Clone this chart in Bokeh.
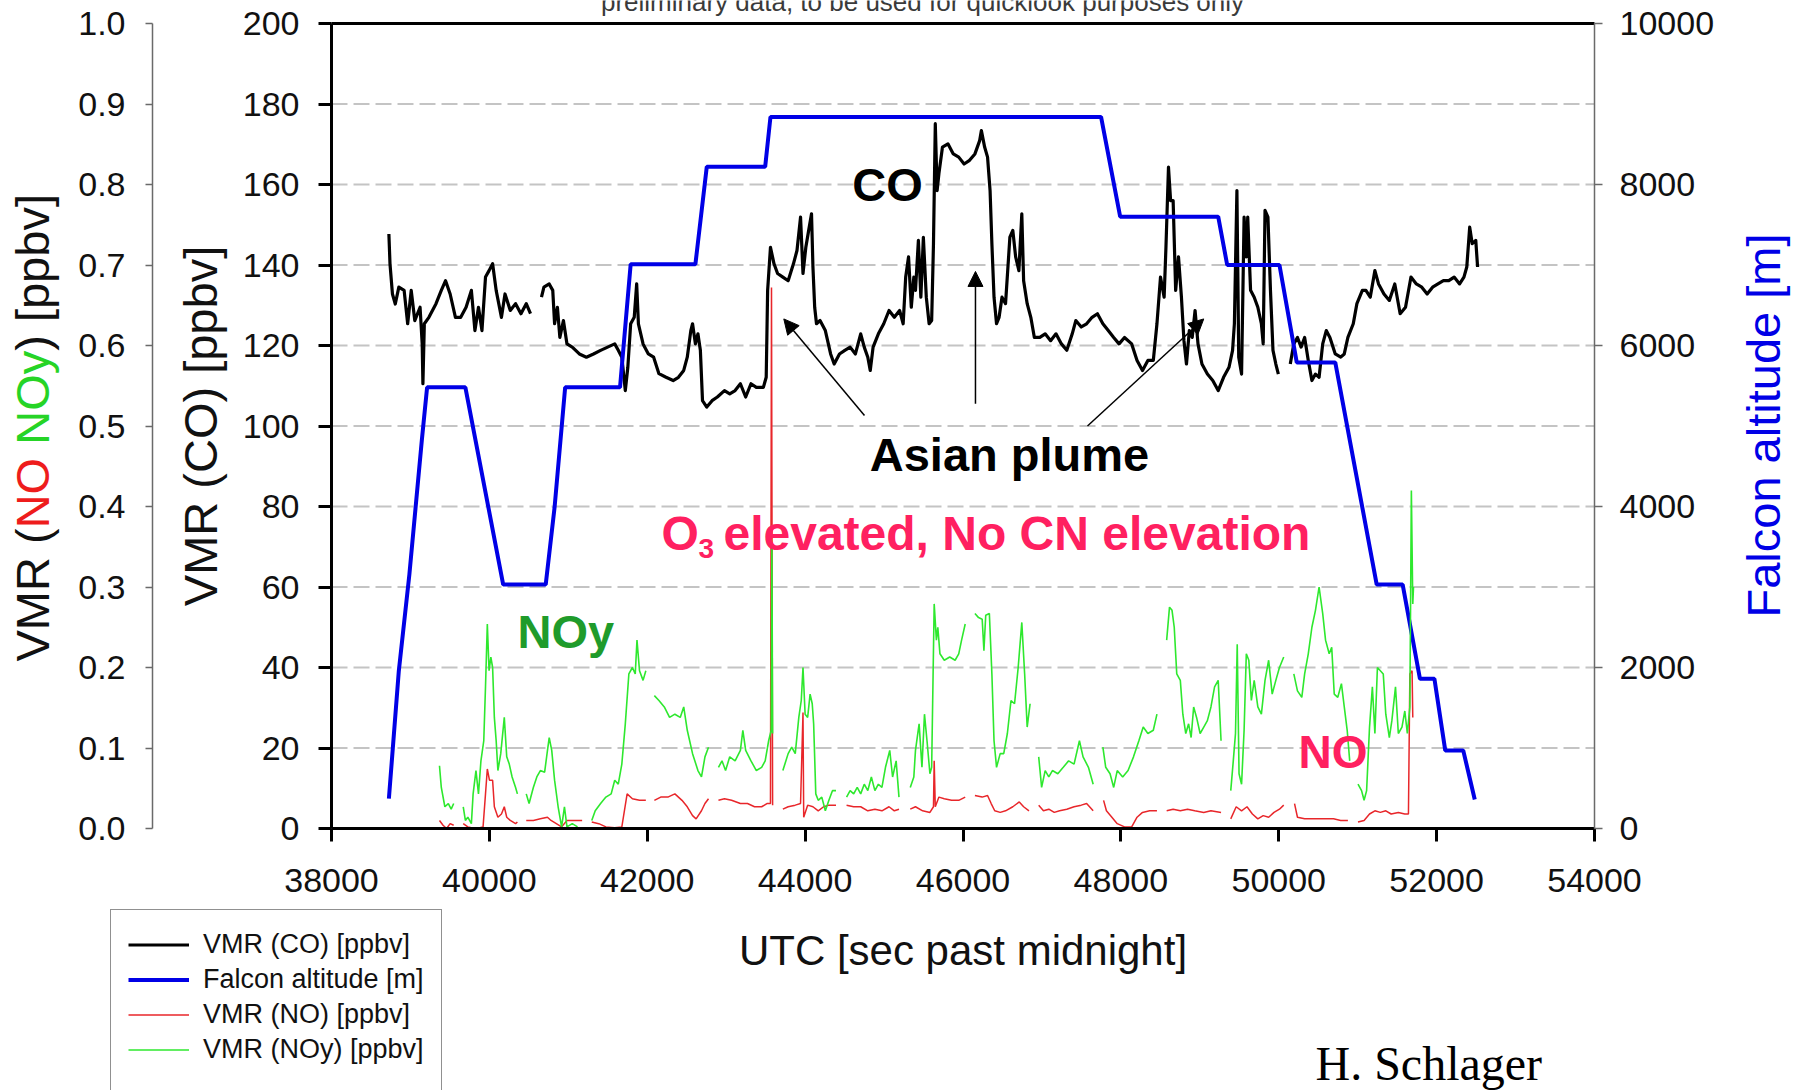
import math

from bokeh.core.properties import value
from bokeh.embed import file_html
from bokeh.models import (Arrow, BasicTickFormatter, FixedTicker, Label, Legend,
                          LegendItem, LinearAxis, NormalHead, PrintfTickFormatter,
                          Range1d)
from bokeh.plotting import figure
from bokeh.resources import INLINE

GAP = float("nan")

# ---------------------------------------------------------------- data
# Falcon flight, UTC seconds past midnight

co_time = [
    38727, 38741, 38772, 38808, 38853, 38920, 38965, 39010, 39055, 39122,
    39149, 39158, 39176, 39234, 39324, 39391, 39445, 39503, 39570, 39637,
    39705, 39772, 39817, 39862, 39906, 39951, 39996, 40041, 40086, 40153,
    40198, 40265, 40332, 40400, 40467, 40521, GAP,
    40660, 40691, 40758, 40803, 40826, 40862, 40893, 40938, 40983, 41050,
    41140, 41229, 41319, 41409, 41498, 41588, 41633, 41678, 41722, 41754,
    41790, 41835, 41866, 41888, 41947, 42014, 42081, 42148, 42238, 42328,
    42395, 42462, 42507, 42552, 42574, 42610, 42642, 42673, 42700, 42754,
    42821, 42888, 42978, 43045, 43113, 43180, 43247, 43314, 43382, 43471,
    43507, 43525, 43561, 43606, 43651, 43718, 43785, 43852, 43897, 43942,
    43973, 44009, 44045, 44081, 44099, 44121, 44144, 44189, 44256, 44323,
    44368, 44435, 44503, 44570, 44637, 44704, 44749, 44794, 44825, 44861,
    44928, 44996, 45063, 45130, 45197, 45242, 45274, 45310, 45345, 45377,
    45398, 45435, 45466, 45498, 45535, 45571, 45603, 45626, 45649, 45672,
    45695, 45740, 45809, 45877, 45946, 46014, 46083, 46151, 46211, 46233,
    46274, 46311, 46343, 46366, 46393, 46425, 46457, 46494, 46539, 46594,
    46631, 46667, 46708, 46745, 46768, 46813, 46859, 46904, 46973, 47041,
    47110, 47178, 47247, 47315, 47384, 47429, 47498, 47566, 47635, 47703,
    47772, 47840, 47909, 47977, 48046, 48137, 48205, 48274, 48342, 48411,
    48457, 48502, 48548, 48571, 48603, 48630, 48662, 48694, 48730, 48767,
    48799, 48831, 48867, 48904, 48940, 48977, 49027, 49096, 49164, 49233,
    49301, 49370, 49415, 49438, 49470, 49493, 49529, 49561, 49589, 49607,
    49643, 49689, 49735, 49780, 49803, 49826, 49863, 49895, 49927, 49963,
    49995, GAP,
    50146, 50191, 50237, 50283, 50328, 50374, 50420, 50465, 50511, 50557,
    50602, 50648, 50716, 50785, 50830, 50876, 50944, 50990, 51059, 51104,
    51159, 51218, 51264, 51333, 51401, 51470, 51538, 51606, 51675, 51743,
    51812, 51880, 51949, 52017, 52086, 52154, 52222, 52291, 52346, 52382,
    52419, 52451, 52496, 52519,
]
co_ppbv = [
    147.7, 140.3, 132.8, 130.3, 134.5, 133.7, 125.4, 133.7, 126.2, 129.5,
    120.4, 110.5, 125.4, 127.0, 130.4, 133.7, 136.1, 132.8, 127.0, 127.0,
    129.5, 133.7, 123.7, 129.5, 123.7, 137.0, 138.6, 140.3, 133.7, 127.0,
    132.8, 128.7, 130.4, 127.9, 130.4, 127.9, GAP,
    132.0, 134.5, 135.3, 133.7, 125.4, 129.5, 122.0, 126.2, 120.4, 119.6,
    117.9, 117.1, 117.9, 118.8, 119.6, 120.4, 118.8, 117.1, 108.8, 114.6,
    125.4, 127.0, 135.3, 125.4, 120.4, 117.9, 117.1, 113.0, 112.1, 111.3,
    112.1, 113.8, 117.1, 123.7, 125.4, 120.4, 122.9, 118.8, 106.3, 104.7,
    106.3, 107.2, 108.8, 108.0, 108.8, 110.5, 107.2, 110.5, 109.6, 109.6,
    112.1, 133.7, 144.4, 140.3, 137.9, 137.0, 136.1, 140.3, 143.6, 151.9,
    137.9, 144.4, 148.6, 152.7, 139.5, 129.5, 125.4, 126.2, 123.7, 117.9,
    115.4, 117.9, 118.8, 119.6, 117.9, 122.9, 119.6, 117.1, 113.8, 119.6,
    122.9, 125.4, 128.7, 127.0, 128.7, 125.4, 137.0, 142.0, 129.5, 137.0,
    133.7, 146.1, 132.0, 146.9, 132.0, 125.4, 126.2, 145.3, 175.1, 158.5,
    162.7, 169.3, 170.1, 167.6, 166.8, 165.1, 166.0, 167.6, 170.9, 173.4,
    169.3, 166.8, 158.5, 145.3, 132.0, 125.4, 127.0, 132.0, 130.4, 146.9,
    148.6, 142.0, 138.6, 152.7, 136.1, 130.4, 127.0, 122.0, 122.0, 122.9,
    121.2, 122.9, 120.4, 118.8, 122.9, 126.2, 124.6, 125.4, 127.0, 127.9,
    125.4, 123.7, 122.0, 120.4, 122.0, 120.4, 116.3, 113.8, 116.3, 116.3,
    125.4, 137.0, 132.0, 144.4, 164.3, 156.0, 156.0, 133.7, 142.0, 132.0,
    121.2, 115.4, 123.7, 122.0, 128.7, 120.4, 115.4, 112.9, 111.3, 108.8,
    112.1, 114.6, 118.8, 125.4, 158.5, 117.1, 112.9, 151.9, 142.0, 151.9,
    133.7, 132.0, 129.5, 125.4, 120.4, 153.6, 151.9, 133.7, 118.8, 115.4,
    112.9, GAP,
    115.4, 120.4, 122.0, 119.6, 122.0, 116.3, 111.3, 112.9, 112.1, 120.4,
    123.7, 122.0, 117.9, 117.1, 117.9, 122.0, 125.4, 130.4, 133.7, 133.7,
    132.0, 138.6, 135.3, 132.8, 131.2, 135.3, 127.9, 129.5, 137.0, 135.3,
    134.5, 132.8, 134.5, 135.3, 136.1, 136.1, 137.0, 135.3, 137.0, 139.5,
    149.4, 145.3, 146.1, 139.5,
]

alt_time = [
    38727, 38853, 38987, 39144, 39211, 39696, 40175, 40714, 40826, 40960,
    41655, 41790, 42610, 42754, 43494, 43561, 47749, 47991, 49233, 49347,
    50009, 50228, 50716, 51241, 51570, 51789, 51972, 52109, 52337, 52483,
]
alt_m = [
    370, 1960, 3160, 4820, 5480, 5480, 3030, 3030, 3990, 5480,
    5480, 7010, 7010, 8220, 8220, 8840, 8840, 7600, 7600, 7000,
    7000, 5790, 5790, 3030, 3030, 1860, 1860, 970, 970, 360,
]

no_time = [
    39368, 39413, 39458, 39503, 39548, GAP,
    39669, 39727, 39772, 39839, 39920, 39951, 39974, 40001, 40041, 40063,
    40108, 40153, 40189, 40220, 40265, 40332, 40355, GAP,
    40467, 40557, 40646, 40736, 40781, 40848, 40915, 40983, 41072, 41175, GAP,
    41297, 41386, 41476, 41588, 41678, 41745, 41812, 41902, 41982, GAP,
    42090, 42171, 42261, 42350, 42440, 42507, 42574, 42619, 42687, 42731,
    42776, GAP,
    42902, 42978, 43068, 43180, 43270, 43359, 43449, 43516, 43561, 43574,
    43588, GAP,
    43718, 43785, 43875, 43942, 43973, 43982, 44032, 44099, 44166, 44234,
    44301, 44391, GAP,
    44525, 44615, 44704, 44794, 44884, 44973, 45063, 45130, 45189, GAP,
    45332, 45398, 45489, 45581, 45626, 45635, 45649, 45695, 45763, 45855,
    45946, 46028, GAP,
    46151, 46243, 46311, 46357, 46402, 46471, 46539, 46631, 46713, 46768,
    46836, GAP,
    46959, 47019, 47087, 47156, 47224, 47315, 47407, 47498, 47566, 47649, GAP,
    47781, 47817, 47886, 47954, 48046, 48137, 48205, 48274, 48365, 48457, GAP,
    48580, 48662, 48753, 48845, 48936, 49050, 49141, 49269, GAP,
    49392, 49461, 49529, 49598, 49666, 49735, 49803, 49872, 49940, 50009,
    50063, GAP,
    50200, 50237, 50328, 50420, 50511, 50602, 50694, 50785, 50876, GAP,
    51004, 51081, 51150, 51218, 51287, 51356, 51424, 51515, 51597, 51643,
    51661, 51689, 51698,
]
no_ppbv = [
    0.010, 0.004, 0.000, 0.006, 0.004, GAP,
    0.006, 0.002, 0.001, 0.000, 0.002, 0.043, 0.074, 0.060, 0.060, 0.027,
    0.014, 0.018, 0.027, 0.014, 0.010, 0.006, 0.008, GAP,
    0.010, 0.010, 0.012, 0.014, 0.010, 0.006, 0.002, 0.010, 0.010, 0.010, GAP,
    0.008, 0.006, 0.002, 0.001, 0.002, 0.043, 0.037, 0.035, 0.035, GAP,
    0.035, 0.039, 0.039, 0.043, 0.035, 0.027, 0.016, 0.012, 0.022, 0.031,
    0.037, GAP,
    0.035, 0.037, 0.035, 0.031, 0.031, 0.027, 0.027, 0.031, 0.031, 0.672,
    0.029, GAP,
    0.024, 0.027, 0.029, 0.031, 0.144, 0.014, 0.029, 0.027, 0.022, 0.027,
    0.029, 0.029, GAP,
    0.029, 0.027, 0.027, 0.022, 0.024, 0.022, 0.027, 0.022, 0.024, GAP,
    0.024, 0.027, 0.022, 0.020, 0.027, 0.084, 0.027, 0.039, 0.037, 0.035,
    0.035, 0.039, GAP,
    0.041, 0.039, 0.041, 0.031, 0.022, 0.020, 0.022, 0.027, 0.033, 0.027,
    0.022, GAP,
    0.029, 0.022, 0.024, 0.020, 0.022, 0.024, 0.027, 0.029, 0.031, 0.022, GAP,
    0.035, 0.022, 0.014, 0.006, 0.002, 0.002, 0.014, 0.020, 0.022, 0.022, GAP,
    0.022, 0.024, 0.022, 0.024, 0.022, 0.020, 0.022, 0.020, GAP,
    0.012, 0.027, 0.022, 0.027, 0.018, 0.012, 0.016, 0.014, 0.020, 0.024,
    0.029, GAP,
    0.031, 0.014, 0.012, 0.012, 0.012, 0.012, 0.012, 0.010, 0.010, GAP,
    0.008, 0.010, 0.018, 0.022, 0.020, 0.022, 0.018, 0.020, 0.018, 0.018,
    0.192, 0.196, 0.138,
]

noy_time = [
    39368, 39391, 39436, 39480, 39516, 39548, GAP,
    39669, 39696, 39727, 39772, 39794, 39830, 39862, 39893, 39929, 39951,
    39974, 39996, 40019, 40041, 40063, 40086, 40108, 40144, 40189, 40220,
    40252, 40288, 40332, 40355, GAP,
    40467, 40503, 40557, 40601, 40646, 40700, 40736, 40758, 40790, 40826,
    40871, 40915, 40951, 40983, 41050, 41117, GAP,
    41297, 41341, 41409, 41476, 41543, 41588, 41633, 41678, 41722, 41767,
    41812, 41848, 41870, 41902, 41947, 41982, GAP,
    42090, 42148, 42216, 42283, 42350, 42418, 42462, 42507, 42574, 42642,
    42687, 42731, 42776, GAP,
    42902, 42947, 42992, 43045, 43113, 43180, 43211, 43247, 43314, 43382,
    43449, 43494, 43538, 43570, 43579, 43588, GAP,
    43718, 43785, 43830, 43875, 43920, 43951, 43973, 44000, 44032, 44063,
    44090, 44108, 44135, 44166, 44211, 44256, 44301, 44346, 44391, GAP,
    44525, 44570, 44615, 44660, 44704, 44749, 44794, 44839, 44884, 44928,
    44973, 45018, 45072, 45108, 45153, 45189, GAP,
    45332, 45377, 45398, 45444, 45480, 45512, 45544, 45581, 45603, 45635,
    45663, 45681, 45708, 45763, 45832, 45900, 45946, 45982, 46028, GAP,
    46151, 46197, 46243, 46265, 46288, 46334, 46366, 46393, 46425, 46471,
    46516, 46562, 46608, 46653, 46699, 46745, 46781, 46813, 46850, GAP,
    46959, 46996, 47041, 47087, 47133, 47201, 47270, 47338, 47407, 47475,
    47521, 47589, 47649, GAP,
    47772, 47808, 47863, 47909, 47954, 48023, 48091, 48160, 48228, 48283,
    48342, 48411, 48457, GAP,
    48580, 48616, 48648, 48676, 48708, 48753, 48785, 48822, 48858, 48890,
    48922, 48959, 49004, 49050, 49096, 49141, 49187, 49233, 49269, GAP,
    49392, 49424, 49452, 49474, 49497, 49529, 49561, 49589, 49621, 49653,
    49689, 49735, 49780, 49826, 49872, 49917, 49963, 50009, 50063, GAP,
    50191, 50237, 50292, 50328, 50374, 50420, 50465, 50511, 50557, 50593,
    50639, 50671, 50703, 50748, 50794, 50830, 50867, 50899, GAP,
    51004, 51049, 51081, 51113, 51150, 51186, 51218, 51250, 51287, 51324,
    51356, 51401, 51433, 51479, 51515, 51561, 51597, 51629, 51661, 51680,
    51698, 51707,
]
noy_ppbv = [
    0.078, 0.051, 0.027, 0.031, 0.024, 0.031, GAP,
    0.027, 0.010, 0.014, 0.006, 0.043, 0.072, 0.043, 0.084, 0.109, 0.176,
    0.254, 0.196, 0.213, 0.200, 0.138, 0.109, 0.072, 0.093, 0.138, 0.089,
    0.080, 0.064, 0.051, 0.043, GAP,
    0.043, 0.031, 0.051, 0.064, 0.072, 0.070, 0.097, 0.113, 0.097, 0.060,
    0.027, 0.002, 0.027, 0.002, 0.006, 0.002, GAP,
    0.010, 0.022, 0.031, 0.039, 0.043, 0.060, 0.055, 0.080, 0.130, 0.192,
    0.200, 0.192, 0.234, 0.196, 0.184, 0.196, GAP,
    0.165, 0.159, 0.151, 0.138, 0.142, 0.138, 0.151, 0.122, 0.093, 0.072,
    0.064, 0.089, 0.101, GAP,
    0.076, 0.084, 0.072, 0.089, 0.084, 0.097, 0.122, 0.097, 0.084, 0.072,
    0.076, 0.084, 0.109, 0.122, 0.360, 0.118, GAP,
    0.072, 0.093, 0.101, 0.093, 0.138, 0.159, 0.200, 0.142, 0.138, 0.167,
    0.155, 0.130, 0.043, 0.035, 0.039, 0.022, 0.035, 0.047, 0.047, GAP,
    0.039, 0.047, 0.043, 0.051, 0.043, 0.055, 0.047, 0.064, 0.047, 0.055,
    0.051, 0.076, 0.097, 0.064, 0.084, 0.039, GAP,
    0.051, 0.064, 0.097, 0.130, 0.076, 0.142, 0.109, 0.068, 0.076, 0.279,
    0.234, 0.250, 0.217, 0.209, 0.213, 0.209, 0.217, 0.234, 0.254, GAP,
    0.267, 0.262, 0.260, 0.221, 0.265, 0.267, 0.192, 0.109, 0.076, 0.093,
    0.093, 0.118, 0.159, 0.155, 0.200, 0.256, 0.192, 0.126, 0.155, GAP,
    0.089, 0.051, 0.072, 0.064, 0.072, 0.068, 0.076, 0.084, 0.080, 0.109,
    0.089, 0.076, 0.055, GAP,
    0.101, 0.076, 0.068, 0.051, 0.072, 0.064, 0.072, 0.089, 0.109, 0.126,
    0.118, 0.122, 0.142, GAP,
    0.234, 0.275, 0.271, 0.250, 0.192, 0.184, 0.142, 0.118, 0.130, 0.113,
    0.151, 0.138, 0.118, 0.126, 0.134, 0.151, 0.176, 0.184, 0.109, GAP,
    0.047, 0.084, 0.118, 0.229, 0.068, 0.055, 0.122, 0.217, 0.209, 0.159,
    0.184, 0.151, 0.142, 0.184, 0.209, 0.167, 0.184, 0.200, 0.213, GAP,
    0.192, 0.171, 0.163, 0.192, 0.217, 0.250, 0.271, 0.300, 0.267, 0.234,
    0.217, 0.225, 0.167, 0.163, 0.180, 0.151, 0.122, 0.084, GAP,
    0.055, 0.047, 0.035, 0.047, 0.126, 0.176, 0.118, 0.200, 0.196, 0.192,
    0.142, 0.113, 0.134, 0.176, 0.118, 0.126, 0.146, 0.118, 0.151, 0.420,
    0.279, 0.300,
]

# plume arrows: (time, CO) of tail and head
arrow_x0 = [44752, 46158, 47577]
arrow_y0 = [102.6, 105.5, 100.0]
arrow_x1 = [43730, 46158, 49050]
arrow_y1 = [126.6, 138.4, 126.6]

# axis ticks
x_ticks = [38000, 40000, 42000, 44000, 46000, 48000, 50000, 52000, 54000]
co_ticks = [0, 20, 40, 60, 80, 100, 120, 140, 160, 180, 200]
nox_ticks = [0.0, 0.1, 0.2, 0.3, 0.4, 0.5, 0.6, 0.7, 0.8, 0.9, 1.0]
alt_ticks = [0, 2000, 4000, 6000, 8000, 10000]

# ---------------------------------------------------------------- page geometry
W, H = 1801, 1090
# pixel box of the data area (left, right, top, bottom) on the page
BOX_L, BOX_R, BOX_T, BOX_B = 331, 1594, 23, 828
NOX_SPINE = 152          # pixel column of the outer left axis

SANS = "Liberation Sans"
BLUE = "#0000e6"
RED = "#e8262a"
GREEN = "#2ee82e"
PINK = "#ff2060"
DARK_GREEN = "#1f9b2b"
GRAY_AXIS = "#6a6a6a"
INK = "#111111"
MID = 0.3465             # em-box middle above the baseline (Liberation Sans)


def stretch(lo, hi, p_lo, p_hi, p_max):
    """Range whose [lo, hi] lands on pixels [p_lo, p_hi] of a 0..p_max span."""
    k = (hi - lo) / (p_hi - p_lo)
    return Range1d(lo - p_lo * k, lo + (p_max - p_lo) * k)


x_range = stretch(x_ticks[0], x_ticks[-1], BOX_L, BOX_R, W)
co_range = stretch(co_ticks[0], co_ticks[-1], H - BOX_B, H - BOX_T, H)
nox_range = stretch(nox_ticks[0], nox_ticks[-1], H - BOX_B, H - BOX_T, H)
alt_range = stretch(alt_ticks[0], alt_ticks[-1], H - BOX_B, H - BOX_T, H)
x_per_px = (x_ticks[-1] - x_ticks[0]) / (BOX_R - BOX_L)

p = figure(width=W, height=H, output_backend="svg", toolbar_location=None,
           x_range=x_range, y_range=co_range,
           min_border_left=0, min_border_right=0, min_border_top=0,
           min_border_bottom=0, background_fill_color="white",
           border_fill_color="white", outline_line_color=None)
p.extra_y_ranges = {"nox": nox_range, "alt": alt_range}
p.xgrid.visible = False
p.ygrid.visible = False

axis_common = dict(major_tick_in=0, minor_tick_line_color=None,
                   major_label_text_font=SANS, major_label_text_font_size="34px",
                   major_label_text_color=INK)

# bottom time axis
xa = p.xaxis[0]
xa.update(fixed_location=co_ticks[0], bounds=(x_ticks[0], x_ticks[-1]),
          ticker=FixedTicker(ticks=x_ticks),
          formatter=BasicTickFormatter(use_scientific=False),
          axis_line_width=3, axis_line_color="black",
          major_tick_line_width=3, major_tick_line_color="black",
          major_tick_out=13, major_label_standoff=27,
          axis_label="UTC [sec past midnight]", axis_label_text_font=SANS,
          axis_label_text_font_size="42px", axis_label_text_font_style="normal",
          axis_label_text_color=INK, axis_label_standoff=32, **axis_common)

# left CO axis
ya = p.yaxis[0]
ya.update(fixed_location=x_ticks[0], bounds=(co_ticks[0], co_ticks[-1]),
          ticker=FixedTicker(ticks=co_ticks),
          axis_line_width=3, axis_line_color="black",
          major_tick_line_width=3, major_tick_line_color="black",
          major_tick_out=13, major_label_standoff=19,
          axis_label="VMR (CO) [ppbv]", axis_label_text_font=SANS,
          axis_label_text_font_size="47px", axis_label_text_font_style="normal",
          axis_label_text_color=INK, axis_label_standoff=13, **axis_common)

# outer left NO / NOy axis
nox_axis = LinearAxis(y_range_name="nox",
                      fixed_location=x_range.start + NOX_SPINE * x_per_px,
                      bounds=(nox_ticks[0], nox_ticks[-1]),
                      ticker=FixedTicker(ticks=nox_ticks),
                      formatter=PrintfTickFormatter(format="%.1f"),
                      axis_line_color=GRAY_AXIS, axis_line_width=1.5,
                      major_tick_line_color=GRAY_AXIS, major_tick_line_width=1.5,
                      major_tick_out=7, major_label_standoff=20, **axis_common)
p.add_layout(nox_axis, "left")

# right altitude axis
alt_axis = LinearAxis(y_range_name="alt", fixed_location=x_ticks[-1],
                      bounds=(alt_ticks[0], alt_ticks[-1]),
                      ticker=FixedTicker(ticks=alt_ticks),
                      formatter=BasicTickFormatter(use_scientific=False),
                      axis_line_color=GRAY_AXIS, axis_line_width=1.5,
                      major_tick_line_color=GRAY_AXIS, major_tick_line_width=1.5,
                      major_tick_out=8, major_label_standoff=17, **axis_common)
p.add_layout(alt_axis, "right")

# top edge of the data box
top_axis = LinearAxis(fixed_location=co_ticks[-1], bounds=(x_ticks[0], x_ticks[-1]),
                      ticker=FixedTicker(ticks=[]), axis_line_width=3,
                      axis_line_color="black", major_tick_line_color=None,
                      minor_tick_line_color=None)
p.add_layout(top_axis, "above")

# dashed horizontal grid at the inner CO ticks
grid_levels = co_ticks[1:-1]
p.segment(x0=[x_ticks[0]] * len(grid_levels), x1=[x_ticks[-1]] * len(grid_levels),
          y0=grid_levels, y1=grid_levels, line_color="#c4c4c4", line_width=2,
          line_dash="16 6")

# ---------------------------------------------------------------- series
co_line = p.line(co_time, co_ppbv, line_color="black", line_width=3.2,
                 line_join="round")
alt_line = p.line(alt_time, alt_m, line_color=BLUE, line_width=4,
                  y_range_name="alt")
no_line = p.line(no_time, no_ppbv, line_color=RED, line_width=1.5,
                 y_range_name="nox")
noy_line = p.line(noy_time, noy_ppbv, line_color=GREEN, line_width=1.6,
                  y_range_name="nox")
pad_line = p.line([], [], line_alpha=0)

legend = Legend(items=[
    LegendItem(label=value("VMR (CO) [ppbv]"), renderers=[co_line]),
    LegendItem(label=value("Falcon altitude [m]"), renderers=[alt_line]),
    LegendItem(label=value("VMR (NO) [ppbv]"), renderers=[no_line]),
    LegendItem(label=value("VMR (NOy) [ppbv]"), renderers=[noy_line]),
    LegendItem(label=value(" "), renderers=[pad_line]),
], location=(110, H - 1120), orientation="vertical",
    label_text_font=SANS, label_text_font_size="27px", label_text_color=INK,
    glyph_width=61, glyph_height=35, label_height=35, label_standoff=14,
    spacing=0, padding=17, margin=0,
    border_line_color="#222222", border_line_width=1.5,
    background_fill_color="white", background_fill_alpha=1.0)
p.add_layout(legend)

# ---------------------------------------------------------------- annotations
for x0, y0, x1, y1 in zip(arrow_x0, arrow_y0, arrow_x1, arrow_y1):
    p.add_layout(Arrow(x_start=x0, y_start=y0, x_end=x1, y_end=y1,
                       line_color="black", line_width=1.5,
                       end=NormalHead(size=15, fill_color="black",
                                      line_color="black", line_width=1)))


def page_text(text, px, baseline_py, size, color, align="left", bold=True,
              font=SANS, angle=0.0, mid=MID):
    """Text placed by page pixels; vertical position given by its baseline."""
    if angle:
        # rotated a quarter turn: the baseline is a pixel column
        sx, sy = baseline_py - mid * size, H - px
    else:
        sx, sy = px, H - (baseline_py - mid * size)
    p.add_layout(Label(x=sx, y=sy, x_units="screen", y_units="screen", text=text,
                       angle=angle, text_font=font, text_font_size=f"{size}px",
                       text_font_style="bold" if bold else "normal",
                       text_color=color, text_align=align, text_baseline="middle"))


page_text("CO", 887, 200, 47, "black", align="center")
page_text("Asian plume", 1009, 470, 47, "black", align="center")
page_text("O", 661, 550, 48, PINK)
page_text("3", 698, 558, 28, PINK)
page_text("elevated, No CN elevation", 723, 550, 48, PINK)
page_text("NOy", 517, 647, 47, DARK_GREEN)
page_text("NO", 1298, 767, 46, PINK)

# coloured title of the outer left axis, read bottom to top
ADV = {"V": 667, "M": 833, "R": 722, " ": 278, "(": 333, ")": 333, "N": 722,
       "O": 778, "y": 500, "[": 278, "]": 278, "p": 556, "b": 556, "v": 500}
title_size = 47
pieces = [("VMR (", INK), ("NO", "#ee1c1c"), (" ", None),
          ("NOy", "#26d426"), (") [ppbv]", INK)]
start_py = 661
for text, color in pieces:
    if color is not None:
        page_text(text, start_py, 48, title_size, color, bold=False,
                  angle=math.pi / 2)
    start_py -= sum(ADV[c] for c in text) * title_size / 1000.0

# title of the right altitude axis, read bottom to top
page_text("Falcon altitude [m]", 425, 1779, 47, BLUE, align="center", bold=False,
          angle=math.pi / 2)

# header note and author
page_text("preliminary data, to be used for quicklook purposes only", 922, 11, 26,
          "#3a3a3a", align="center", bold=False)
page_text("H. Schlager", 1315, 1079, 48, "black", bold=False,
          font="Liberation Serif", mid=0.3375)

open("out.html", "w").write(file_html(p, INLINE))
